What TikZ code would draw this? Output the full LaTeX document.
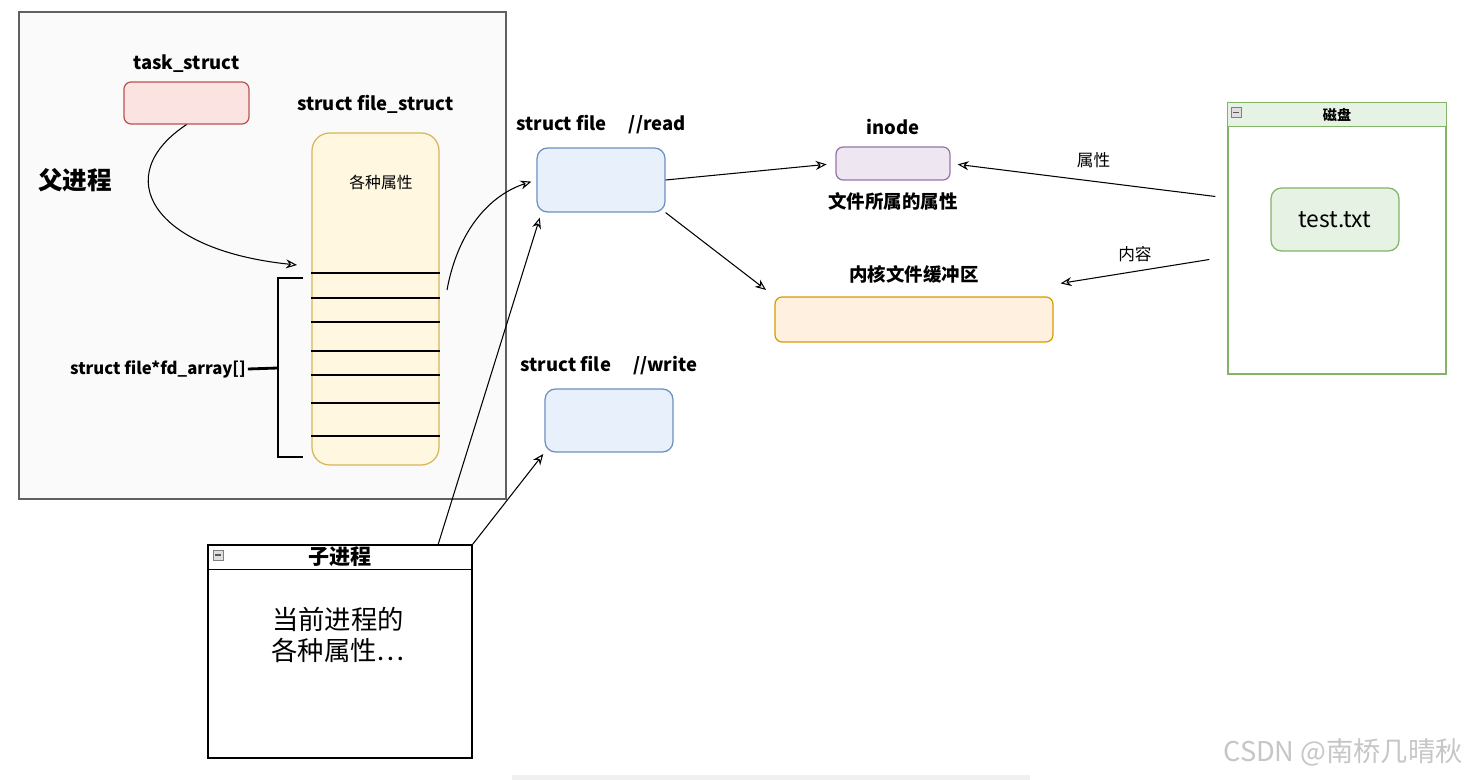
\documentclass[tikz,border=0pt]{standalone}
\usepackage{fontspec}
\setmainfont{Noto Sans CJK SC}
\usetikzlibrary{arrows.meta,positioning,calc}
\definecolor{taskline}{HTML}{B85450}
\definecolor{taskfill}{HTML}{FBE3E2}
\definecolor{fsline}{HTML}{D6B656}
\definecolor{fsfill}{HTML}{FFF7E0}
\definecolor{fileline}{HTML}{6C8EBF}
\definecolor{filefill}{HTML}{E8F0FC}
\definecolor{inodeline}{HTML}{9673A6}
\definecolor{inodefill}{HTML}{EEE6F1}
\definecolor{bufline}{HTML}{D79B00}
\definecolor{buffill}{HTML}{FFF0E0}
\definecolor{diskline}{HTML}{82B366}
\definecolor{diskfill}{HTML}{E6F2E4}

\begin{document}
\begin{tikzpicture}[x=0.02cm, y=-0.02cm,
  font=\small,
  box/.style={draw, rounded corners=4pt, inner sep=0pt, line width=0.7pt},
  lbl/.style={inner sep=1pt, font=\fontsize{10.5}{12}\selectfont\bfseries},
  cjk/.style={inner sep=1pt, font=\fontsize{10.5}{12}\selectfont\bfseries},
  win/.style={draw, inner sep=0pt, line width=0.8pt, fill=white},
  winbtn/.style={draw=gray, fill=gray!25, minimum size=0.2cm, inner sep=0pt,
    path picture={\draw[gray!70!black, thick] ([xshift=1.2pt]path picture bounding box.west) -- ([xshift=-1.2pt]path picture bounding box.east);}},
  arr/.style={-{Stealth[open, length=2.2mm, width=1.8mm]}, line width=0.6pt}]
  \useasboundingbox (0,0) rectangle (1472,780);

  % parent process
  \node[draw=gray!75!black, fill=gray!4, line width=0.8pt, inner sep=0pt,
    minimum width=9.74cm, minimum height=9.74cm] (parent) at (262.5,255.5) {};
  \node[font=\fontsize{14}{16}\selectfont\bfseries] (ptitle) at (75,180) {父进程};
  \node[box, draw=taskline, fill=taskfill, minimum width=2.5cm, minimum height=0.84cm] (task) at (186.5,103) {};
  \node[lbl, above=1.4mm of task] (tasklbl) {task\_struct};
  \node[box, draw=fsline, fill=fsfill, rounded corners=10pt, minimum width=2.54cm, minimum height=6.64cm] (fs) at (375.5,299) {};
  \node[lbl, above=3.4mm of fs] (fslbl) {struct file\_struct};
  \node[font=\fontsize{9}{11}\selectfont] (fsattr) at (381,182) {各种属性};
  \foreach \y in {273,298,322,351,375,403,436}
    \draw[thick] (fs.west |- 0,\y) -- (fs.east |- 0,\y);

  % fd_array bracket
  \coordinate (brtop) at (303,278);
  \coordinate (brbot) at (303,457);
  \coordinate (brmid) at (278,368);
  \draw[line width=1.6pt] (brtop) -- ++(-25,0) |- (brbot);
  \node[lbl, font=\fontsize{9.5}{11}\selectfont\bfseries] (fdlbl) at (158,369) {struct file*fd\_array[]};
  \draw[line width=1.6pt] (fdlbl.east) -- (brmid);

  % struct file
  \node[box, draw=fileline, fill=filefill, rounded corners=6pt, minimum width=2.56cm, minimum height=1.28cm] (fread) at (601,180) {};
  \node[lbl, above=2.2mm of fread] (freadlbl) {struct file\hspace{1.2em}//read};
  \node[box, draw=fileline, fill=filefill, rounded corners=6pt, minimum width=2.56cm, minimum height=1.26cm] (fwrite) at (609,420.5) {};
  \node[lbl, above=2.2mm of fwrite] (fwritelbl) {struct file\hspace{1.2em}//write};

  % inode and buffer
  \node[box, draw=inodeline, fill=inodefill, minimum width=2.28cm, minimum height=0.66cm] (inode) at (893,163.5) {};
  \node[lbl, above=2mm of inode] (inodelbl) {inode};
  \node[cjk, below=2mm of inode] (inodeattr) {文件所属的属性};
  \node[box, draw=bufline, fill=buffill, minimum width=5.56cm, minimum height=0.9cm] (buf) at (914,319.5) {};
  \node[cjk, above=2.2mm of buf] (buflbl) {内核文件缓冲区};

  % disk
  \node[win, draw=diskline, minimum width=4.36cm, minimum height=5.42cm] (disk) at (1337,238.5) {};
  \fill[diskfill] ([shift={(0.4pt,-0.4pt)}]disk.north west) rectangle ($(disk.north east)+(0,24)$);
  \draw[diskline, line width=0.8pt] ($(disk.north west)+(0,24)$) -- ($(disk.north east)+(0,24)$);
  \draw[diskline, line width=0.8pt] (disk.north west) rectangle (disk.south east);
  \node[font=\fontsize{8}{10}\selectfont\bfseries] (disktitle) at ($(disk.north)+(0,13)$) {磁盘};
  \node[winbtn] (diskbtn) at ($(disk.north west)+(9,10)$) {};
  \node[box, draw=diskline, fill=diskfill, rounded corners=6pt, minimum width=2.56cm, minimum height=1.26cm,
    font=\fontsize{13}{15}\selectfont] (txt) at (1335,219.5) {test.txt};

  % child process
  \node[win, minimum width=5.28cm, minimum height=4.26cm] (child) at (340,651.5) {};
  \draw[line width=0.8pt] ($(child.north west)+(0,25)$) -- ($(child.north east)+(0,25)$);
  \node[font=\fontsize{12}{14}\selectfont\bfseries] (childtitle) at (340,557) {子进程};
  \node[winbtn] (childbtn) at (218,555) {};
  \node[align=center, font=\fontsize{15}{18}\selectfont] (childattr) at (338,635) {当前进程的\\各种属性…};

  % connectors
  \coordinate (fdentry) at (297,265);
  \coordinate (fsout) at (447,290);
  \draw[arr] (task.south) .. controls (110,175) and (150,250) .. (fdentry);
  \draw[arr, shorten >=3pt] (fsout) .. controls (458,230) and (490,195) .. (fread.west);
  \draw[arr, shorten >=3pt] ($(child.north east)!0.13!(child.north west)$) -- ([xshift=1mm]fread.south west);
  \draw[arr, shorten >=1pt] (child.north east) -- (fwrite.south west);
  \draw[arr, shorten >=5pt] (fread.east) -- (inode.west);
  \draw[arr, shorten >=6pt] (fread.south east) -- (buf.north west);
  \draw[arr, shorten >=4pt] ($(disk.west)+(-12,-42)$) -- node[midway, above=3pt, xshift=6pt, font=\fontsize{9.5}{11}\selectfont] (attrlbl) {属性} (inode.east);
  \draw[arr] ($(disk.west)+(-18,21)$) -- node[midway, above=2pt, font=\fontsize{9.5}{11}\selectfont] (contlbl) {内容} ($(buf.north east)+(7,-13)$);

  % watermark
  \node[text=gray!45, font=\fontsize{15.5}{18}\selectfont] (wm) at (1343,752) {CSDN @南桥几晴秋};
  \fill[gray!12] (512,775) rectangle (1030,780);
\end{tikzpicture}
\end{document}
